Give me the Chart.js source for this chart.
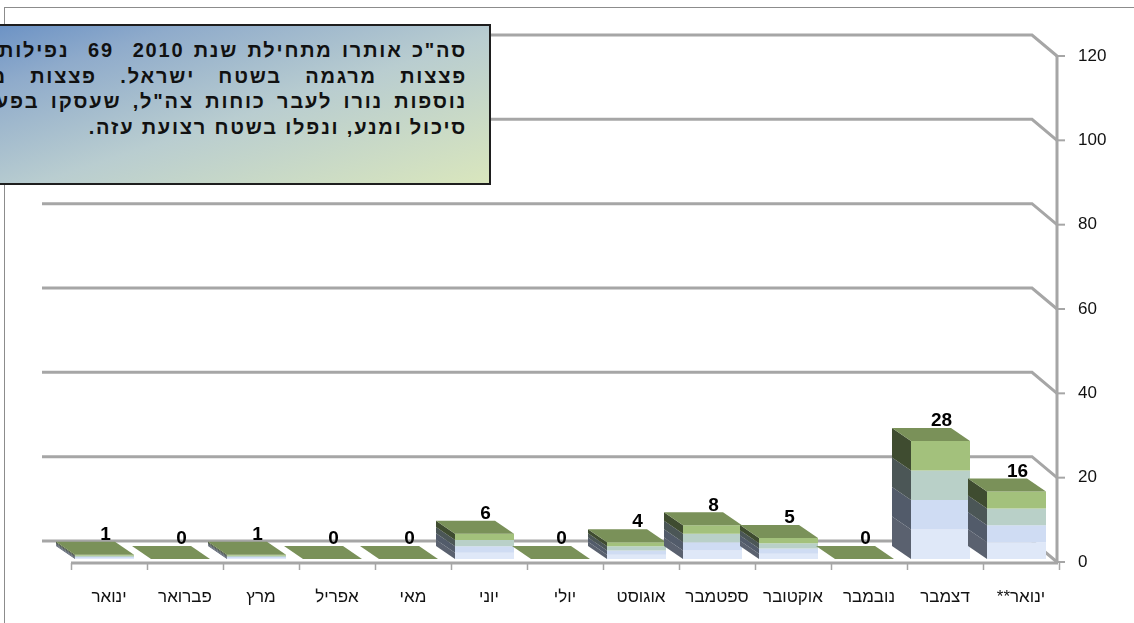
<!DOCTYPE html>
<html>
<head>
<meta charset="utf-8">
<script src="https://cdn.jsdelivr.net/npm/chart.js@4"></script>
<style>
  body { margin: 0; background: #fff; }
  #wrap { position: relative; width: 1134px; height: 623px; overflow: hidden; }
  #frame { position: absolute; left: 4px; top: 7px; width: 1200px; height: 700px;
    border-left: 1px solid #8c8c8c; border-top: 1px solid #8c8c8c; }
  #note { position: absolute; left: -160px; top: 24px; width: 647px; height: 157px;
    border: 2px solid #1e1e1e;
    background: linear-gradient(162deg, #4f7ec0 0%, #8fabcb 30%, #b9cdd0 60%, #d9e6bd 100%);
    direction: rtl; font-family: "Liberation Sans", Arial, sans-serif; font-weight: bold;
    font-size: 20px; letter-spacing: 1.8px; color: #111; }
  #note div { white-space: nowrap; text-align: right; padding-right: 22px; line-height: 25.5px; }
  canvas { position: absolute; left: 0; top: 0; }
</style>
</head>
<body>
<div id="wrap">
  <div id="frame"></div>
  <canvas id="chart" width="1134" height="623"></canvas>
  <div id="note">
    <div style="margin-top:12px; word-spacing:2px">סה"כ אותרו מתחילת שנת 2010&nbsp; 69&nbsp; נפילות של</div>
    <div style="word-spacing:16px">פצצות מרגמה בשטח ישראל. פצצות מרגמה</div>
    <div style="word-spacing:4px">נוספות נורו לעבר כוחות צה"ל, שעסקו בפעילות</div>
    <div>סיכול ומנע, ונפלו בשטח רצועת עזה.</div>
  </div>
</div>
<script>
// chart data
const months = ["ינואר", "פברואר", "מרץ", "אפריל", "מאי", "יוני", "יולי",
  "אוגוסט", "ספטמבר", "אוקטובר", "נובמבר", "דצמבר", "**ינואר"];
const shells = [1, 0, 1, 0, 0, 6, 0, 4, 8, 5, 0, 28, 16];
const yMin = 0;
const yMax = 120;
const yStep = 20;

// colours of the 3d columns (bottom band first)
const frontBands = ["#dfe8f8", "#cfdcf3", "#b9d0c8", "#a3c17c"];
const sideBands = ["#5a616f", "#525b6a", "#4b5656", "#3f4c30"];
const topColor = "#7a9159";
const lineColor = "#a6a6a6";

function poly(ctx, pts, color) {
  ctx.beginPath();
  ctx.moveTo(pts[0][0], pts[0][1]);
  for (let i = 1; i < pts.length; i++) ctx.lineTo(pts[i][0], pts[i][1]);
  ctx.closePath();
  ctx.fillStyle = color;
  ctx.fill();
}

// draws the back wall grid, the axes and the 3d columns
const columns3d = {
  id: "columns3d",
  beforeDatasetsDraw(chart) {
    const ctx = chart.ctx;
    const x = chart.scales.x;
    const y = chart.scales.y;
    const right = x.right - 2;
    ctx.save();
    ctx.strokeStyle = lineColor;
    ctx.lineWidth = 3;
    for (let v = yMin; v <= yMax; v += yStep) {
      const yf = y.getPixelForValue(v);
      ctx.beginPath();
      ctx.moveTo(42, yf - 21);
      ctx.lineTo(right - 25, yf - 21);
      ctx.lineTo(right, yf);
      ctx.stroke();
    }
    // value axis
    ctx.beginPath();
    ctx.moveTo(right, y.getPixelForValue(yMax));
    ctx.lineTo(right, y.getPixelForValue(yMin) + 1);
    ctx.stroke();
    ctx.lineWidth = 2;
    for (let v = yMin; v <= yMax; v += yStep) {
      const yf = y.getPixelForValue(v);
      ctx.beginPath();
      ctx.moveTo(right, yf);
      ctx.lineTo(right + 8, yf);
      ctx.stroke();
    }
    // category axis
    const y0 = y.getPixelForValue(0) + 1;
    ctx.lineWidth = 3;
    ctx.beginPath();
    ctx.moveTo(x.left, y0);
    ctx.lineTo(right + 1, y0);
    ctx.stroke();
    ctx.lineWidth = 1.5;
    const w = (x.right - x.left) / months.length;
    for (let i = 0; i <= months.length; i++) {
      const tx = Math.round(x.left + i * w) + 0.5;
      ctx.beginPath();
      ctx.moveTo(tx, y0);
      ctx.lineTo(tx, y0 + 7);
      ctx.stroke();
    }
    ctx.restore();
  },
  afterDatasetsDraw(chart) {
    const ctx = chart.ctx;
    const x = chart.scales.x;
    const y = chart.scales.y;
    const dx = -19, dy = -13;
    const base = y.getPixelForValue(0) - 3;
    ctx.save();
    shells.forEach((v, i) => {
      const c = x.getPixelForValue(i);
      const fl = c - 34;
      const fr = c + 25;
      const top = y.getPixelForValue(v) - 3;
      const h = base - top;
      for (let k = 0; k < 4; k++) {
        const lo = base - (h * k) / 4;
        const hi = base - (h * (k + 1)) / 4;
        poly(ctx, [[fl, lo], [fl, hi], [fl + dx, hi + dy], [fl + dx, lo + dy]], sideBands[k]);
        poly(ctx, [[fl, lo], [fr, lo], [fr, hi], [fl, hi]], frontBands[k]);
      }
      poly(ctx, [[fl, top], [fr, top], [fr + dx, top + dy], [fl + dx, top + dy]], topColor);
      ctx.fillStyle = "#000";
      ctx.font = "bold 19px 'Liberation Sans', Arial, sans-serif";
      ctx.textAlign = "center";
      ctx.textBaseline = "middle";
      ctx.fillText(String(v), c - 3.5, top + dy - 7);
    });
    ctx.restore();
  }
};

new Chart(document.getElementById("chart").getContext("2d"), {
  type: "bar",
  data: {
    labels: months,
    datasets: [{
      data: shells,
      backgroundColor: "rgba(0,0,0,0)",
      borderWidth: 0,
    }],
  },
  options: {
    responsive: false,
    animation: false,
    layout: { padding: { left: 71, top: 56, right: 0, bottom: 0 } },
    plugins: {
      legend: { display: false },
      tooltip: { enabled: false },
    },
    scales: {
      x: {
        grid: { display: false, drawTicks: false },
        border: { display: false },
        ticks: {
          padding: 25,
          color: "#111",
          maxRotation: 0,
          font: { family: "'Liberation Sans', Arial, sans-serif", size: 17 },
        },
        afterFit(scale) { scale.height = 61; },
      },
      y: {
        position: "right",
        min: yMin,
        max: yMax,
        grid: { display: false, drawTicks: false },
        border: { display: false },
        ticks: {
          stepSize: yStep,
          padding: 19,
          color: "#111",
          font: { family: "'Liberation Sans', Arial, sans-serif", size: 17 },
        },
        afterFit(scale) { scale.width = 75; },
      },
    },
  },
  plugins: [columns3d],
});
</script>
</body>
</html>
